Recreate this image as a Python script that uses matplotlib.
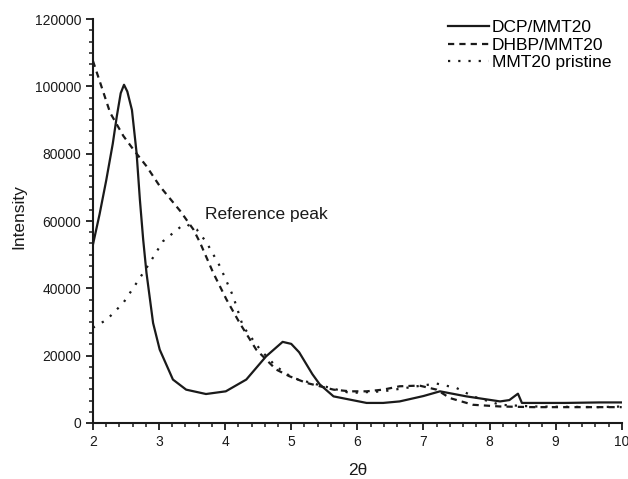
import matplotlib
matplotlib.use("Agg")
import matplotlib.pyplot as plt
from matplotlib.ticker import MultipleLocator, AutoMinorLocator

plt.rcParams['font.family'] = ['Liberation Sans', 'DejaVu Sans']

# DCP/MMT20 (solid)
dcp_x = [2.0, 2.1, 2.2, 2.3, 2.36, 2.42, 2.47, 2.52, 2.59, 2.66, 2.71, 2.76, 2.81, 2.91,
         3.01, 3.21, 3.41, 3.71, 4.01, 4.32, 4.62, 4.87, 5.0, 5.12, 5.32, 5.43, 5.64,
         6.14, 6.39, 6.64, 7.0, 7.25, 7.65, 8.16, 8.3, 8.43, 8.49, 9.14, 9.67, 10.0]
dcp_y = [53000, 62000, 72000, 83000, 91000, 98000, 100500, 98500, 93000, 80300, 66400, 54500, 44600, 29700,
         21800, 12900, 9900, 8600, 9400, 12900, 19800, 24100, 23500, 21000, 14500, 11500, 7900,
         5950, 5950, 6400, 8000, 9400, 7900, 6400, 6800, 8700, 5950, 5950, 6100, 6100]

# DHBP/MMT20 (dashed)
dhbp_x = [2.0, 2.11, 2.26, 2.46, 2.61, 2.81, 3.01, 3.32, 3.52, 3.62, 3.82, 4.02, 4.22,
          4.47, 4.77, 4.97, 5.23, 5.64, 5.89, 6.14, 6.39, 6.64, 6.94, 7.2, 7.4, 7.75,
          8.16, 8.66, 9.14, 10.0]
dhbp_y = [107600, 101100, 92200, 85300, 81300, 76300, 70400, 63000, 57500, 53600, 44600, 36700, 29700,
          21800, 15900, 13900, 11900, 9900, 9400, 9400, 9900, 10900, 11100, 9900, 7400, 5400,
          4900, 4700, 4700, 4700]

# MMT20 pristine (dotted)
mmt_x = [2.0, 2.21, 2.46, 2.66, 2.86, 3.06, 3.34, 3.42, 3.57, 3.72, 3.92, 4.12, 4.27,
         4.53, 4.77, 5.02, 5.38, 5.89, 6.39, 6.9, 7.2, 7.5, 7.75, 8.16, 8.66, 9.67, 10.0]
mmt_y = [28300, 30700, 35700, 41600, 47600, 54000, 58500, 59000, 57500, 53600, 46600, 37700, 28700,
         21800, 16800, 13400, 11500, 8900, 9400, 10900, 11700, 10400, 7900, 5400, 4900, 4700, 4900]

fig = plt.figure(figsize=(6.28, 4.79), dpi=100)
ax = fig.add_axes([0.148, 0.117, 0.842, 0.843])

ax.plot(dcp_x, dcp_y, color='#1a1a1a', lw=1.6, ls='-', label='DCP/MMT20')
ax.plot(dhbp_x, dhbp_y, color='#1a1a1a', lw=1.6, ls=(0, (2.8, 2.3)), label='DHBP/MMT20')
ax.plot(mmt_x, mmt_y, color='#1a1a1a', lw=1.6, ls=(0, (1, 3.6)), label='MMT20 pristine')

ax.text(3.69, 62000, 'Reference peak', fontsize=12.5, va='center', ha='left', color='#1a1a1a')

ax.set_xlim(2, 10)
ax.set_ylim(0, 120000)
ax.xaxis.set_major_locator(MultipleLocator(1))
ax.xaxis.set_minor_locator(AutoMinorLocator(5))
ax.yaxis.set_major_locator(MultipleLocator(20000))
ax.yaxis.set_minor_locator(AutoMinorLocator(6))

for s in ['top', 'right']:
    ax.spines[s].set_visible(False)
for s in ['left', 'bottom']:
    ax.spines[s].set_linewidth(1.5)
    ax.spines[s].set_color('#1a1a1a')

ax.tick_params(which='major', direction='out', length=5, width=1.3, pad=3.5,
               labelsize=10, colors='#1a1a1a')
ax.tick_params(which='minor', direction='out', length=3, width=1.1, colors='#1a1a1a')

ax.set_xlabel('2θ', fontsize=12.5, color='#1a1a1a')
ax.set_ylabel('Intensity', fontsize=12.5, color='#1a1a1a')
ax.xaxis.set_label_coords(0.5, -0.1)
ax.yaxis.set_label_coords(-0.125, 0.51)

ax.legend(loc='upper left', bbox_to_anchor=(0.671, 0.998), frameon=False, fontsize=12.5,
          handlelength=2.4, handletextpad=0.15, labelspacing=0.14, borderpad=0,
          borderaxespad=0)

fig.savefig('out.png', dpi=100)
